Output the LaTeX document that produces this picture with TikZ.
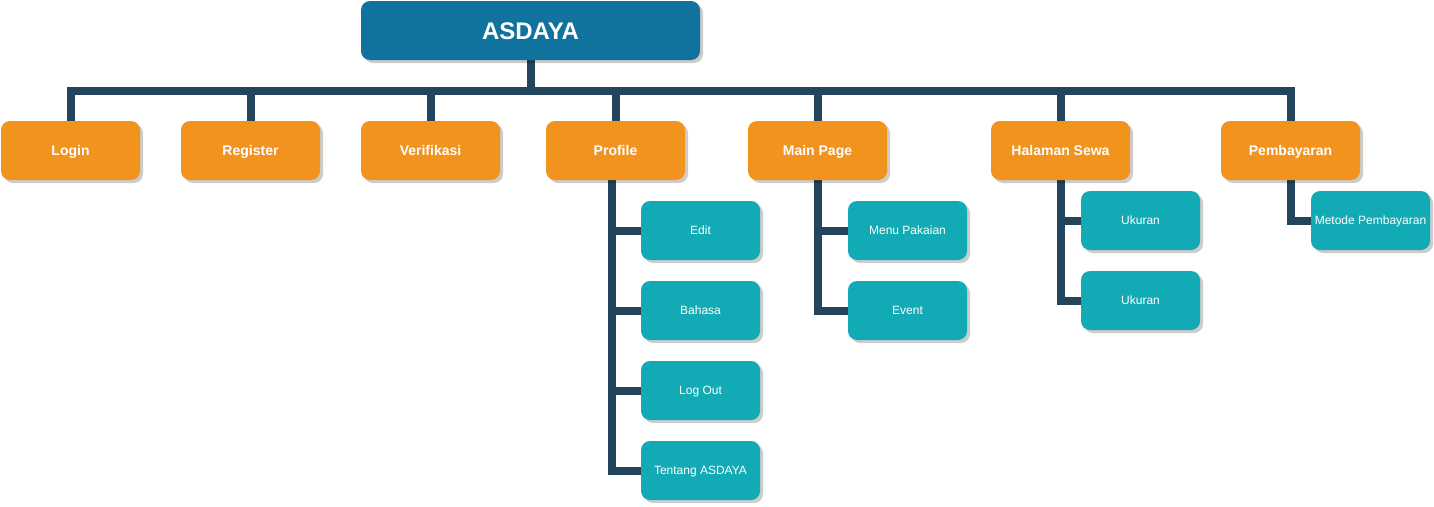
\documentclass[tikz,border=0pt]{standalone}
\usepackage{fontspec}
\setmainfont{Liberation Sans}
\usetikzlibrary{shadows,backgrounds}
\definecolor{rootblue}{HTML}{10739E}
\definecolor{menuorange}{HTML}{F2931E}
\definecolor{subteal}{HTML}{12AAB5}
\definecolor{linkdark}{HTML}{23445D}

\begin{document}
\begin{tikzpicture}[x=1pt, y=-1pt,
  box/.style={rounded corners=9pt, text=white, align=center, inner sep=2pt,
    drop shadow={shadow xshift=3pt, shadow yshift=-3pt, fill=black, opacity=0.2}},
  rootbox/.style={box, fill=rootblue, minimum width=339pt, minimum height=59pt,
    text height=19.2pt, text depth=2pt,
    font=\fontsize{24}{28}\selectfont\bfseries},
  menubox/.style={box, fill=menuorange, minimum width=139pt, minimum height=59pt,
    text height=12pt, text depth=2pt,
    font=\fontsize{14}{16}\selectfont\bfseries},
  subbox/.style={box, fill=subteal, minimum width=119pt, minimum height=59pt,
    text height=10.6pt, text depth=2pt,
    font=\fontsize{12}{14}\selectfont},
  link/.style={draw=linkdark, line width=8pt}]
  \useasboundingbox (0,0) rectangle (1434,506);

  % top
  \node[rootbox] (root) at (530.5,30.5) {ASDAYA};
  \coordinate (bus) at (530.5,91);

  % menu row
  \foreach \name/\x/\txt in {login/70.5/Login, register/250.5/Register,
      verifikasi/430.5/Verifikasi, profile/615.5/Profile, mainpage/817.5/Main Page,
      sewa/1060.5/Halaman Sewa, bayar/1290.5/Pembayaran}
    \node[menubox] (\name) at (\x,150.5) {\txt};

  % sub pages
  \node[subbox] (edit)    at (700.5,230.5) {Edit};
  \node[subbox] (bahasa)  at (700.5,310.5) {Bahasa};
  \node[subbox] (logout)  at (700.5,390.5) {Log Out};
  \node[subbox] (tentang) at (700.5,470.5) {Tentang ASDAYA};
  \node[subbox] (pakaian) at (907.5,230.5) {Menu Pakaian};
  \node[subbox] (event)   at (907.5,310.5) {Event};
  \node[subbox] (ukurana) at (1140.5,220.5) {Ukuran};
  \node[subbox] (ukuranb) at (1140.5,300.5) {Ukuran};
  \node[subbox] (metode)  at (1370.5,220.5) {Metode Pembayaran};

  \begin{scope}[on background layer]
    \foreach \name in {login,register,verifikasi,profile,mainpage,sewa,bayar}
      \draw[link] (root.south) -- (root.south |- bus) -| (\name.north);

    \foreach \sub in {edit,bahasa,logout,tentang}
      \draw[link] ([xshift=-4pt]profile.south) |- (\sub.west);
    \foreach \sub in {pakaian,event}
      \draw[link] (mainpage.south) |- (\sub.west);
    \foreach \sub in {ukurana,ukuranb}
      \draw[link] (sewa.south) |- (\sub.west);
    \draw[link] (bayar.south) |- (metode.west);
  \end{scope}
\end{tikzpicture}
\end{document}
